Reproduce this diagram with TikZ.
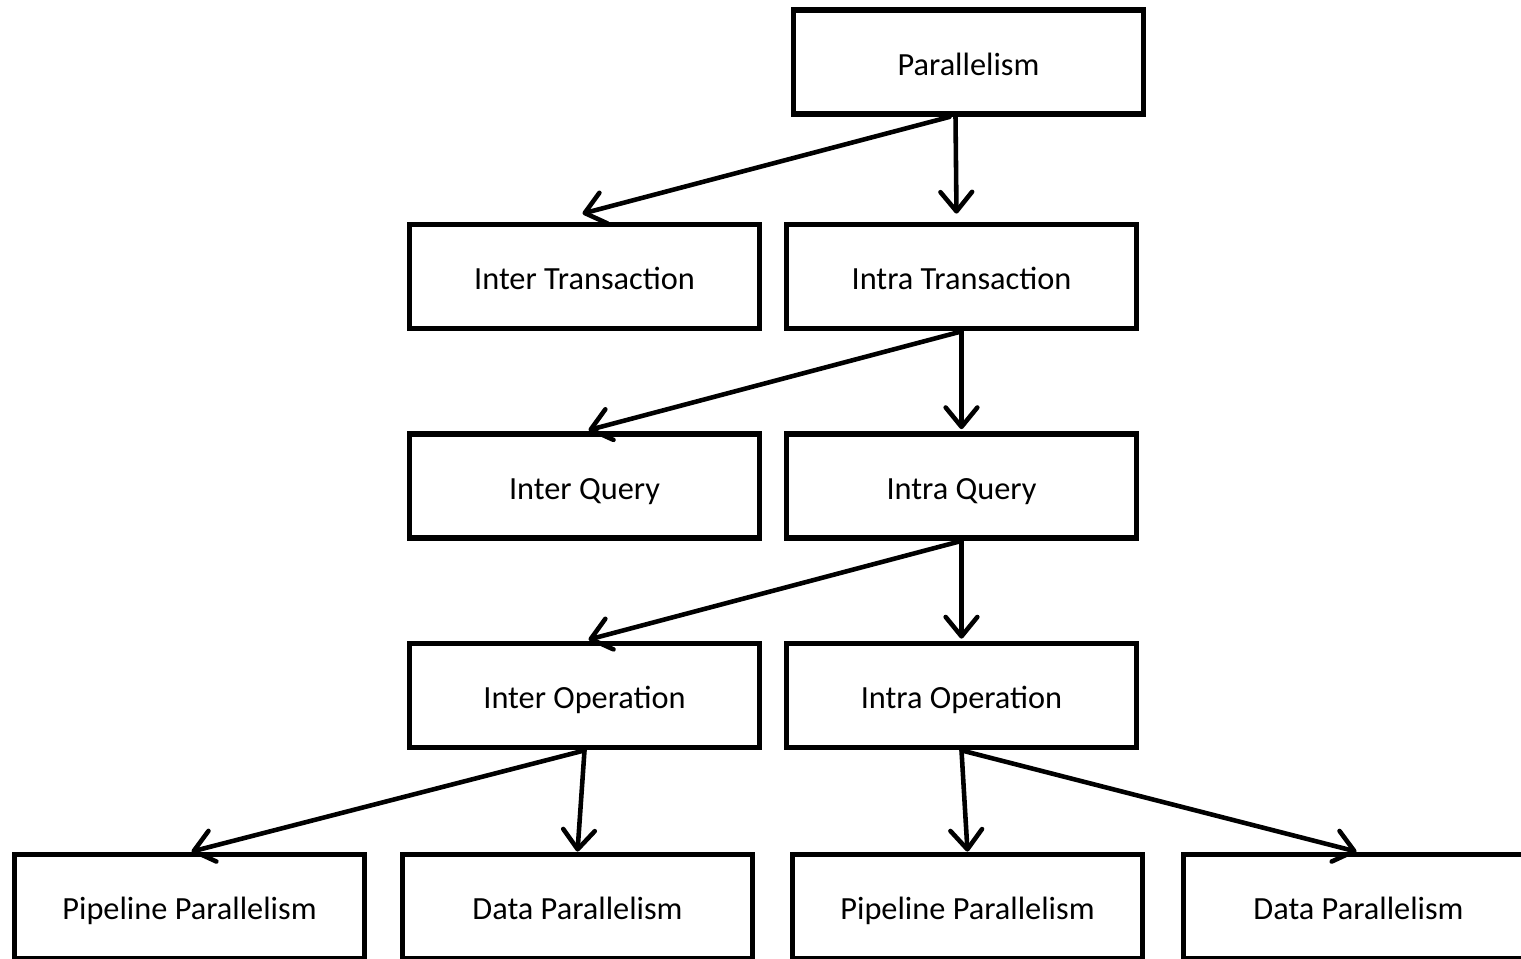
\documentclass[tikz,border=0pt]{standalone}
\usepackage{fontspec}
\setmainfont{Carlito}
\usetikzlibrary{arrows.meta}
\begin{document}
\begin{tikzpicture}[x=0.02cm,y=-0.02cm,
  box/.style={draw=black,line width=3.3pt,rectangle,minimum width=350*0.02cm,
    minimum height=104*0.02cm,inner sep=0pt,text height=14.8pt,text depth=0pt,
    font=\fontsize{18.4}{22}\selectfont},
  arr/.style={line width=2.6pt,line cap=round,
    -{Straight Barb[length=11pt,width=18pt,line cap=round,line join=round]}}]
\useasboundingbox (0,0) rectangle (1521,958);
\begin{scope}
\clip (0,0) rectangle (1521,958);
% top level
\node[box] (par) at (968.5,62) {Parallelism};
% transaction level
\node[box] (intert) at (584.5,276.5) {Inter Transaction};
\node[box] (intrat) at (961.5,276.5) {Intra Transaction};
% query level
\node[box] (interq) at (584.5,486) {Inter Query};
\node[box] (intraq) at (961.5,486) {Intra Query};
% operation level
\node[box] (intero) at (584.5,695.5) {Inter Operation};
\node[box] (intrao) at (961.5,695.5) {Intra Operation};
% leaves (run past the lower and right edges)
\node[box] (pipe1) at (189.5,906.5) {Pipeline Parallelism};
\node[box] (data1) at (577.5,906.5) {Data Parallelism};
\node[box] (pipe2) at (967.5,906.5) {Pipeline Parallelism};
\node[box] (data2) at (1358.5,906.5) {Data Parallelism};

% connectors
\draw[arr] ([xshift=-13*0.02cm]par.south) -- ([xshift=-5*0.02cm,yshift=8*0.02cm]intrat.north);
\draw[arr] ([xshift=-19*0.02cm]par.south) -- ([xshift=-2*0.02cm,yshift=8*0.02cm]intert.north);
\draw[arr] (intrat.south) -- ([yshift=2*0.02cm]intraq.north);
\draw[arr] (intrat.south) -- ([xshift=4*0.02cm,yshift=1*0.02cm]interq.north);
\draw[arr] (intraq.south) -- ([yshift=2*0.02cm]intrao.north);
\draw[arr] (intraq.south) -- ([xshift=4*0.02cm,yshift=1*0.02cm]intero.north);
\draw[arr] (intero.south) -- (data1.north);
\draw[arr] (intero.south) -- ([xshift=2*0.02cm]pipe1.north);
\draw[arr] (intrao.south) -- (pipe2.north);
\draw[arr] (intrao.south) -- ([xshift=-2*0.02cm]data2.north);
\end{scope}
\end{tikzpicture}
\end{document}
